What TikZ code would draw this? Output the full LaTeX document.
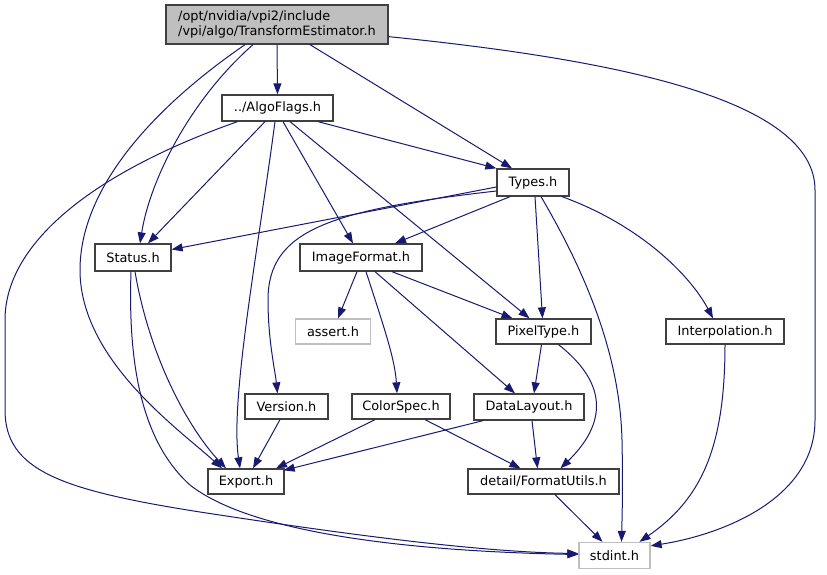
\documentclass[tikz,border=0pt]{standalone}
\usepackage{fontspec}
\setmainfont{DejaVu Sans}
\usetikzlibrary{arrows.meta,calc}
\definecolor{edgeblue}{HTML}{191970}
\definecolor{boxgray}{HTML}{BFBFBF}
\definecolor{boxline}{HTML}{404040}

\tikzstyle{file} = [draw=boxline, line width=1.3pt, inner sep=0pt, minimum height=25pt, fill=white]
\tikzstyle{sysfile} = [file, draw=boxgray]
\tikzstyle{edge} = [line width=1pt, -{Triangle[length=11pt,width=8pt]}, edgeblue]

\begin{document}
\begin{tikzpicture}[x=1pt,y=-1pt,font=\fontsize{12.9}{15}\selectfont]
	\useasboundingbox (0,0) rectangle (827,575);
	% files
	\node[file, fill=boxgray, minimum width=222pt, minimum height=39pt, align=left] (root) at (277,24.5) {/opt/nvidia/vpi2/include\\/vpi/algo/TransformEstimator.h};
	\node[file, minimum width=111pt, minimum height=26pt] (algoflags) at (277.5,108) {../AlgoFlags.h};
	\node[file, minimum width=72pt, minimum height=27pt] (types) at (533,182.5) {Types.h};
	\node[file, minimum width=76pt, minimum height=27pt] (status) at (133,257.5) {Status.h};
	\node[file, minimum width=122pt, minimum height=27pt] (imageformat) at (361,257.5) {ImageFormat.h};
	\node[sysfile, minimum width=75pt] (assert) at (333,331.5) {assert.h};
	\node[file, minimum width=95pt] (pixeltype) at (543.5,331.5) {PixelType.h};
	\node[file, minimum width=118pt] (interp) at (725,331.5) {Interpolation.h};
	\node[file, minimum width=110pt, minimum height=26pt] (datalayout) at (529,407) {DataLayout.h};
	\node[file, minimum width=83pt] (version) at (286.5,406.5) {Version.h};
	\node[file, minimum width=98pt] (colorspec) at (401,406.5) {ColorSpec.h};
	\node[file, minimum width=76pt] (export) at (246,481.5) {Export.h};
	\node[file, minimum width=151pt] (formatutils) at (543.5,481.5) {detail/FormatUtils.h};
	\node[sysfile, minimum width=71pt, minimum height=26pt] (stdint) at (614.5,555.5) {stdint.h};

	% root
	\draw[edge] (root.south) -- (algoflags.north);
	\draw[edge] ([xshift=33]root.south) -- ([xshift=-21]types.north);
	\draw[edge] ($(root.south east)+(0,-8)$) .. controls (620,60) and (815,100) .. (815,190) -- (815,420) .. controls (815,500) and (720,535) .. ($(stdint.north east)+(0,4)$);
	\draw[edge] ([xshift=-24]root.south) .. controls (190,100) and (150,180) .. ([xshift=7]status.north);
	\draw[edge] ([xshift=-32]root.south) .. controls (150,110) and (80,190) .. (80,270) .. controls (80,360) and (180,430) .. ([xshift=-24]export.north);

	% algoflags
	\draw[edge] ([xshift=-40]algoflags.south) .. controls (100,170) and (5,240) .. (5,320) -- (5,410) .. controls (5,470) and (60,490) .. (200,512) .. controls (350,535) and (480,552) .. ([yshift=2]stdint.west);
	\draw[edge] ([xshift=-12.5]algoflags.south) -- ([xshift=15]status.north);
	\draw[edge] ([xshift=-2.5]algoflags.south) .. controls (258,250) and (230,400) .. ([xshift=-6]export.north);
	\draw[edge] ([xshift=5.5]algoflags.south) -- ([xshift=-8]imageformat.north);
	\draw[edge] ([xshift=12.5]algoflags.south) -- ([xshift=-14]pixeltype.north);
	\draw[edge] ([xshift=40.5]algoflags.south) -- (types.north west);

	% types
	\draw[edge] ([yshift=-4.5]types.west) -- ([yshift=8]status.east);
	\draw[edge] ([yshift=-8.5]types.west) .. controls (330,210) and (268,230) .. (268,300) .. controls (268,340) and (275,370) .. ([xshift=-9]version.north);
	\draw[edge] ([xshift=-23]types.south) -- ([xshift=34]imageformat.north);
	\draw[edge] ([xshift=2]types.south) -- ([xshift=-1]pixeltype.north);
	\draw[edge] ([xshift=8]types.south) .. controls (590,280) and (620,360) .. (622,440) .. controls (623,490) and (622,520) .. ([xshift=7]stdint.north);
	\draw[edge] ([xshift=29]types.south) .. controls (640,225) and (690,275) .. ([xshift=-12]interp.north);

	% status
	\draw[edge] ([xshift=-2]status.south) .. controls (128,360) and (140,440) .. (190,485) .. controls (260,540) and (450,552) .. ([yshift=1]stdint.west);
	\draw[edge] ([xshift=2]status.south) .. controls (150,360) and (190,430) .. ([xshift=-20]export.north);

	% imageformat
	\draw[edge] ([xshift=-4]imageformat.south) -- ([xshift=5]assert.north);
	\draw[edge] ([xshift=5]imageformat.south) .. controls (385,330) and (395,360) .. ([xshift=-4]colorspec.north);
	\draw[edge] ([xshift=14]imageformat.south) -- ([xshift=-14]datalayout.north);
	\draw[edge] ([xshift=31]imageformat.south) -- ([xshift=-31]pixeltype.north);

	% pixeltype
	\draw[edge] ([xshift=-2]pixeltype.south) -- ([xshift=5]datalayout.north);
	\draw[edge] ([xshift=15]pixeltype.south) .. controls (610,385) and (605,425) .. ([xshift=17]formatutils.north);

	% interpolation
	\draw[edge] (interp.south) .. controls (725,450) and (700,500) .. ([xshift=25]stdint.north);

	% datalayout, colorspec, version
	\draw[edge] ([xshift=3]datalayout.south) -- ([xshift=-6]formatutils.north);
	\draw[edge] ([xshift=-46]datalayout.south) -- ([xshift=-1,yshift=-2]export.north east);
	\draw[edge] ([xshift=-26]colorspec.south) -- ([xshift=30]export.north);
	\draw[edge] ([xshift=24]colorspec.south) -- ([xshift=-23]formatutils.north);
	\draw[edge] ([xshift=-6.5]version.south) -- ([xshift=7]export.north);

	% formatutils
	\draw[edge] ([xshift=11.5]formatutils.south) -- ([xshift=-12]stdint.north);
\end{tikzpicture}
\end{document}
